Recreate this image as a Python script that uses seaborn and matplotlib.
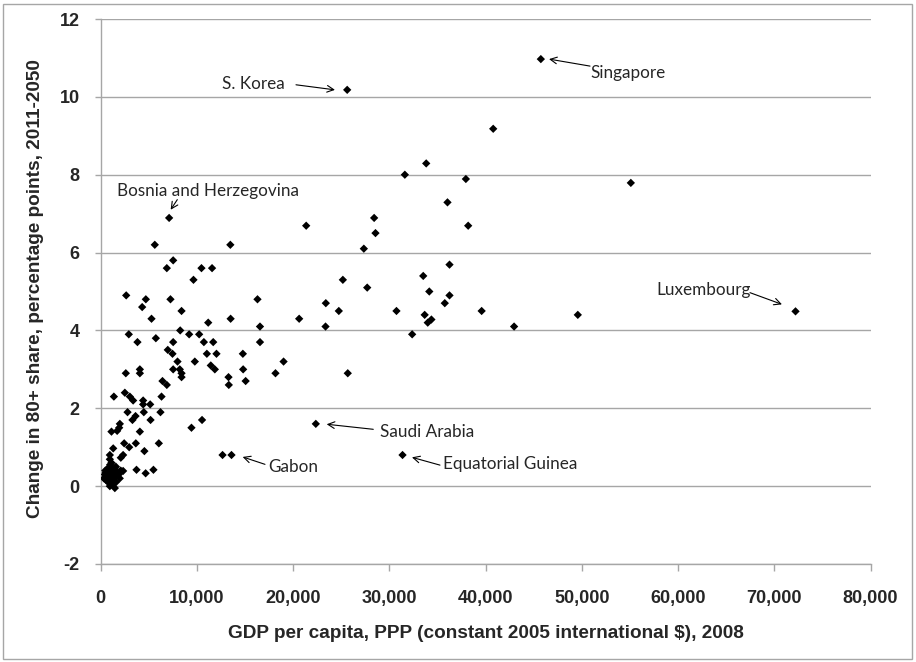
import matplotlib
matplotlib.use("Agg")
import matplotlib.pyplot as plt
from matplotlib.patches import Rectangle
from matplotlib.ticker import FuncFormatter
import pandas as pd
import seaborn as sns

# GDP per capita (PPP, constant 2005 $), 2008
gdp = [
    45750, 25630, 40800, 33840, 31620, 37960, 55100, 36050, 7130, 28430,
    21370, 38200, 28570, 27360, 5640, 13490, 7550, 6890, 10490, 11590,
    36260, 33530, 9660, 25180, 27710, 34160, 36260, 2670, 4710, 7270,
    16310, 35770, 23410, 4330, 8420, 24760, 30750, 39600, 72210, 49590,
    33680, 5300, 13520, 20640, 34380, 34000, 11190, 16570, 23380, 42970,
    8280, 2940, 9210, 10250, 32380, 5750, 3840, 7550, 10740, 11710,
    16570, 6990, 7480, 11050, 12050, 14790, 8000, 9800, 19020, 11460,
    11880, 14820, 7550, 8240, 4090, 2630, 4090, 8420, 18180, 25690,
    8420, 13300, 15080, 6440, 13330, 6890, 1390, 2530, 3050, 3390,
    4430, 4430, 5160, 6340, 2810, 4500, 3320, 3640, 5200, 6230,
    10550, 9450, 22370, 2010, 1940, 1730, 1140, 4090, 2460, 3670,
    6060, 2980, 1320, 4560, 2350, 2110, 970, 12680, 13610, 31380,
    3740, 4690, 5500, 2350, 970, 1140, 970, 1490, 1600,
    # dense cluster near the origin
    350, 450, 550, 650, 750, 850, 950, 1050, 1150, 1250,
    1350, 1450, 1550, 1700, 1900, 2100, 600, 800, 1200, 1000,
    1600, 2000, 500, 900, 1300, 700,
]

# change in 80+ population share, percentage points, 2011-2050
change = [
    10.97, 10.18, 9.18, 8.29, 8.0, 7.89, 7.79, 7.29, 6.89, 6.89,
    6.69, 6.69, 6.5, 6.1, 6.2, 6.2, 5.8, 5.6, 5.6, 5.6,
    5.69, 5.4, 5.3, 5.3, 5.1, 5.0, 4.9, 4.9, 4.8, 4.8,
    4.8, 4.7, 4.7, 4.6, 4.5, 4.5, 4.5, 4.5, 4.49, 4.4,
    4.4, 4.3, 4.3, 4.3, 4.28, 4.2, 4.2, 4.1, 4.1, 4.1,
    4.0, 3.9, 3.9, 3.9, 3.9, 3.8, 3.7, 3.7, 3.7, 3.7,
    3.7, 3.5, 3.4, 3.4, 3.4, 3.4, 3.2, 3.2, 3.2, 3.1,
    3.0, 3.0, 3.0, 3.0, 3.0, 2.9, 2.9, 2.9, 2.9, 2.9,
    2.8, 2.8, 2.7, 2.7, 2.6, 2.6, 2.3, 2.4, 2.3, 2.2,
    2.2, 2.1, 2.1, 2.3, 1.9, 1.9, 1.7, 1.8, 1.7, 1.9,
    1.7, 1.5, 1.6, 1.6, 1.5, 1.42, 1.4, 1.4, 1.1, 1.1,
    1.1, 1.0, 0.97, 0.9, 0.8, 0.73, 0.8, 0.8, 0.8, 0.8,
    0.42, 0.33, 0.42, 0.39, 0.69, 0.6, 0.0, -0.05, 0.1,
    0.2, 0.3, 0.35, 0.25, 0.45, 0.3, 0.5, 0.2, 0.4, 0.3,
    0.15, 0.45, 0.25, 0.35, 0.3, 0.4, 0.15, 0.1, 0.05, 0.55,
    0.5, 0.2, 0.4, 0.3, 0.2, 0.35,
]

# labelled countries: text position (left, middle), arrow tail and arrow head
labels = ["S. Korea", "Singapore", "Bosnia and Herzegovina", "Luxembourg",
          "Saudi Arabia", "Gabon", "Equatorial Guinea"]
label_x = [12620, 50860, 1745, 57790, 29040, 17400, 35580]
label_y = [10.33, 10.62, 7.59, 5.03, 1.38, 0.49, 0.56]
tail_x = [20310, 50860, 7980, 67480, 28340, 17090, 35270]
tail_y = [10.31, 10.79, 7.36, 4.97, 1.46, 0.56, 0.54]
head_x = [24360, 46600, 7290, 70800, 23500, 14770, 32360]
head_y = [10.18, 10.97, 7.10, 4.67, 1.59, 0.75, 0.74]

df = pd.DataFrame({"gdp": gdp, "change": change})

sns.set_theme(style="white")
plt.rcParams["font.family"] = ["Lato", "DejaVu Sans"]
plt.rcParams["axes.unicode_minus"] = False
bold_font = ["Liberation Sans", "DejaVu Sans"]

W, H = 916, 662
fig = plt.figure(figsize=(W / 100, H / 100), dpi=100)
ax = fig.add_axes([100.5 / W, 1 - 564 / H, 770 / W, 545 / H])

grey = "#a6a6a6"
sns.scatterplot(data=df, x="gdp", y="change", marker="D", color="black",
                s=18, edgecolor="none", linewidth=0, ax=ax, zorder=3)

ax.set_xlim(0, 80000)
ax.set_ylim(-2, 12)
ax.set_xticks(range(0, 80001, 10000))
ax.set_yticks(range(-2, 13, 2))
ax.xaxis.set_major_formatter(FuncFormatter(lambda v, p: f"{int(v):,}"))

ax.grid(axis="y", color=grey, linewidth=1)
ax.grid(axis="x", visible=False)
ax.set_axisbelow(True)
for side in ["top", "right"]:
    ax.spines[side].set_visible(False)
for side in ["left", "bottom"]:
    ax.spines[side].set_color(grey)
    ax.spines[side].set_linewidth(1)

ax.tick_params(axis="x", direction="out", length=5, width=1, color=grey,
               pad=14, labelsize=13, bottom=True)
ax.tick_params(axis="y", direction="out", length=4, width=1, color=grey,
               pad=11, labelsize=13, left=True)
ax.set_xticklabels(ax.get_xticklabels(), fontweight="bold", family=bold_font)
ax.set_yticklabels(ax.get_yticklabels(), fontweight="bold", family=bold_font)

ax.set_xlabel("GDP per capita, PPP (constant 2005 international $), 2008",
              fontsize=13.7, fontweight="bold", family=bold_font, va="center")
ax.xaxis.set_label_coords(0.5, (564 - 634) / 545)
ax.set_ylabel("Change in 80+ share, percentage points, 2011-2050",
              fontsize=13.7, fontweight="bold", family=bold_font, va="center")
ax.yaxis.set_label_coords((36 - 100.5) / 770, 0.505)

for i, name in enumerate(labels):
    ax.text(label_x[i], label_y[i], name, fontsize=12.3, ha="left", va="center")
    ax.annotate("", xy=(head_x[i], head_y[i]), xytext=(tail_x[i], tail_y[i]),
                arrowprops=dict(arrowstyle="->", color="black", lw=0.8,
                                shrinkA=0, shrinkB=0, mutation_scale=12))

# chart area border
fig.patches.append(Rectangle((3 / W, 3 / H), (W - 7) / W, (H - 7) / H,
                             transform=fig.transFigure, fill=False,
                             edgecolor=grey, linewidth=1))

fig.savefig("out.png", dpi=100)
